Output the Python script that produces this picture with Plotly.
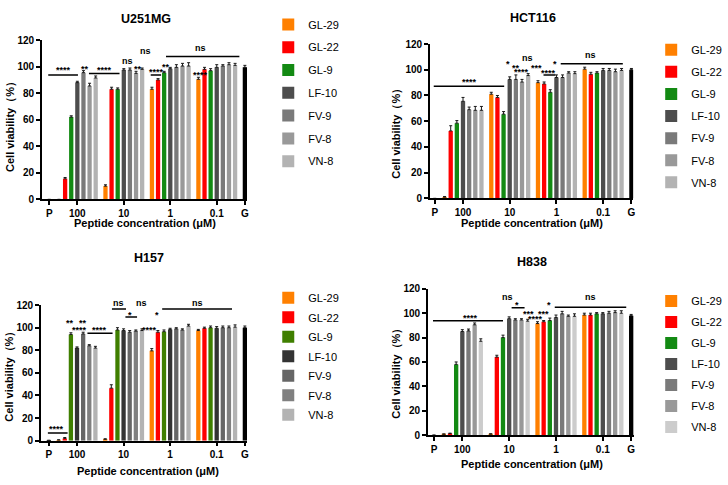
import plotly.graph_objects as go

# ---------------- data ----------------
peptides = ["GL-29", "GL-22", "GL-9", "LF-10", "FV-9", "FV-8", "VN-8"]
concentrations = ["100", "10", "1", "0.1"]
tick_labels = ["P", "100", "10", "1", "0.1", "G"]
panel_titles = ["U251MG", "HCT116", "H157", "H838"]

# U251MG (order of each list: 100, 10, 1, 0.1 uM)
u251_gl29 = [0.0, 10.0, 83.0, 90.5]
u251_gl22 = [15.5, 83.0, 90.0, 98.0]
u251_gl9 = [62.0, 83.0, 95.5, 97.0]
u251_lf10 = [88.0, 97.5, 98.5, 99.5]
u251_fv9 = [95.5, 97.5, 99.5, 100.5]
u251_fv8 = [85.5, 95.0, 100.5, 101.5]
u251_vn8 = [91.5, 98.0, 100.5, 101.0]
u251_controls = [0.0, 99.5]  # P, G
u251_err = [[0, 1, 1.5, 1.5], [1, 1.5, 1, 1.5], [1, 1, 1, 1.5], [1, 1, 1, 2],
            [1.5, 1.5, 2, 1], [2, 1.5, 2, 1.5], [1.5, 1, 2.5, 1.5]]
u251_ctrl_err = [0, 1.5]

# HCT116
hct_gl29 = [1.0, 81.0, 90.0, 100.5]
hct_gl22 = [52.5, 78.5, 89.0, 96.5]
hct_gl9 = [58.5, 65.5, 82.5, 97.5]
hct_lf10 = [75.5, 92.5, 94.0, 99.5]
hct_fv9 = [69.0, 92.5, 94.0, 99.5]
hct_fv8 = [68.5, 90.5, 97.5, 98.5]
hct_vn8 = [68.5, 95.5, 97.0, 99.5]
hct_controls = [0.0, 100.0]
hct_err = [[0.5, 1.5, 1.5, 1.5], [4, 1.5, 1.5, 1.5], [2, 2, 2, 1], [3, 2, 2, 1.5],
           [2, 3.5, 2, 1.5], [3, 2, 1, 2], [3, 1.5, 1.5, 1.5]]
hct_ctrl_err = [0, 1]

# H157
h157_gl29 = [0.5, 1.2, 79.5, 97.5]
h157_gl22 = [2.0, 46.5, 96.0, 99.5]
h157_gl9 = [94.0, 98.0, 96.5, 100.0]
h157_lf10 = [82.0, 97.5, 98.5, 99.5]
h157_fv9 = [94.5, 96.0, 99.0, 100.0]
h157_fv8 = [84.0, 97.0, 98.0, 100.0]
h157_vn8 = [82.0, 97.5, 101.5, 100.5]
h157_controls = [0.3, 100.0]
h157_err = [[0.3, 0.5, 2, 1], [0.8, 3, 1.5, 1], [1.5, 2, 1.5, 1.5], [1, 1.5, 1, 1.5],
            [1.5, 1.5, 1, 1.5], [1, 1, 1, 1.5], [1.5, 1.5, 1.5, 2]]
h157_ctrl_err = [0, 1.5]

# H838
h838_gl29 = [0.7, 0.8, 91.5, 98.5]
h838_gl22 = [1.3, 64.0, 93.0, 98.5]
h838_gl9 = [58.0, 80.0, 94.0, 99.5]
h838_lf10 = [85.0, 95.5, 96.5, 99.5]
h838_fv9 = [85.5, 94.5, 99.5, 100.0]
h838_fv8 = [90.5, 94.5, 97.5, 100.5]
h838_vn8 = [77.0, 93.5, 97.5, 100.0]
h838_controls = [0.0, 98.0]
h838_err = [[0.3, 0.3, 1.5, 1.5], [0.3, 1.5, 1, 1.5], [2, 2, 2, 1], [1.5, 1.5, 2, 1],
            [1.5, 1, 2, 1.5], [1.5, 1, 1, 1.5], [2, 1.5, 2, 2]]
h838_ctrl_err = [0, 1]

# ---------------- styles / layout ----------------
FONT = "Arial, 'Liberation Sans', sans-serif"
colors_a = ["#FF8000", "#FF0000", "#138A13", "#4D4D4D", "#7A7A7A", "#999999", "#B3B3B3"]
colors_b = ["#FF8000", "#FF0000", "#3F7F00", "#333333", "#666666", "#808080", "#B3B3B3"]
colors_c = ["#FF8000", "#FF0000", "#138A13", "#4D4D4D", "#7A7A7A", "#999999", "#CCCCCC"]

W, H = 728, 485
centers = [4.6 + 7.6 * g for g in range(4)]
P_X, G_X = 0.0, 32.0
BAR_W = 0.7
Y_MAX = 120

panels = [
    dict(vals=[u251_gl29, u251_gl22, u251_gl9, u251_lf10, u251_fv9, u251_fv8, u251_vn8],
         err=u251_err, ctrl=u251_controls, cerr=u251_ctrl_err, colors=colors_a,
         px=(42, 248), py=(35, 198.3), xr=[-1.2, 32.4],
         title=(146, 13), xt=(145, 223), yt=(10, 121),
         leg=(269, 4), gap=3.8,
         lines=[(-0.16, 4.7, 93.8), (6.5, 11.5, 94.8), (16.6, 18.3, 93.8), (19.1, 31.1, 107.7)],
         texts=[("****", 2.3, 99), ("**", 5.8, 100), ("****", 9.1, 99), ("ns", 12.8, 103.6),
                ("ns", 15.8, 110.7), ("**", 14.5, 100), ("****", 17.5, 97.4), ("**", 19.1, 101),
                ("ns", 24.7, 113), ("****", 24.7, 95.5)]),
    dict(vals=[hct_gl29, hct_gl22, hct_gl9, hct_lf10, hct_fv9, hct_fv8, hct_vn8],
         err=hct_err, ctrl=hct_controls, cerr=hct_ctrl_err, colors=colors_a,
         px=(431, 635), py=(39, 197.3), xr=[-0.8, 32.3],
         title=(534, 12), xt=(533, 222), yt=(398, 128),
         leg=(653, 30), gap=3.1,
         lines=[(-0.16, 11.3, 87.2), (17.7, 19.6, 96), (20.5, 30.6, 104.6)],
         texts=[("****", 5.7, 91.7), ("*", 12, 106), ("**", 13.2, 102.8), ("****", 14.1, 99.5),
                ("ns", 15.1, 108.6), ("***", 16.6, 102.6), ("****", 18.5, 98.8), ("*", 19.6, 106.4),
                ("ns", 25.3, 111)]),
    dict(vals=[h157_gl29, h157_gl22, h157_gl9, h157_lf10, h157_fv9, h157_fv8, h157_vn8],
         err=h157_err, ctrl=h157_controls, cerr=h157_ctrl_err, colors=colors_b,
         px=(41, 248), py=(306.7, 445.7), xr=[-1.3, 32.4],
         title=(149, 258), xt=(148, 477), yt=(10, 377),
         leg=(269, 284.3), gap=0.5,
         lines=[(-0.16, 3.06, 6.9), (6.3, 10.4, 95), (10.3, 12.6, 116.6), (12.5, 14.4, 109.4),
                (18.5, 29.9, 116.6)],
         texts=[("****", 1.3, 12.1), ("**", 3.5, 105.7), ("**", 5.5, 105.7), ("****", 4.95, 99.3),
                ("****", 8.2, 99.3), ("ns", 11.4, 120.9), ("*", 13.3, 112.9), ("ns", 15.2, 120.9),
                ("****", 16.5, 99.3), ("*", 17.7, 112.9), ("ns", 24.3, 120.9)]),
    dict(vals=[h838_gl29, h838_gl22, h838_gl9, h838_lf10, h838_fv9, h838_fv8, h838_vn8],
         err=h838_err, ctrl=h838_controls, cerr=h838_ctrl_err, colors=colors_c,
         px=(429, 636), py=(290, 440), xr=[-1.0, 32.5],
         title=(533, 262), xt=(533, 470), yt=(398, 374),
         leg=(653, 287.7), gap=2.0,
         lines=[(-0.16, 11.2, 93.8), (12.6, 14.7, 104.5), (19.6, 31.2, 104.8)],
         texts=[("****", 5.9, 97.4), ("ns", 11.9, 112.5), ("*", 13.5, 108.6), ("***", 15.3, 101.3),
                ("***", 17.7, 101.3), ("****", 16.5, 96.8), ("*", 18.7, 108.6), ("ns", 25.4, 112.5)]),
]

fig = go.Figure()
layout = dict(width=W, height=H, margin=dict(l=0, r=0, t=0, b=0),
              paper_bgcolor="white", plot_bgcolor="white", barmode="overlay",
              font=dict(family=FONT, color="black"), annotations=[], shapes=[])

ERR_STYLE = dict(type="data", symmetric=False, color="#1A1A1A", thickness=1, width=1.5)


def paper_text(text, pos, size, angle=0):
    tx, ty = pos
    return dict(text=text, x=tx / W, y=1 - ty / H, xref="paper", yref="paper",
                xanchor="center", yanchor="middle", showarrow=False, textangle=angle,
                font=dict(family=FONT, size=size, weight="bold"))


for k, p in enumerate(panels):
    sfx = "" if k == 0 else str(k + 1)
    xa, ya = "x" + sfx, "y" + sfx
    leg = "legend" + sfx
    for i, name in enumerate(peptides):
        xs = [c + (i - 3) for c in centers]
        fig.add_trace(go.Bar(
            x=xs, y=p["vals"][i], width=BAR_W, name=name,
            marker=dict(color=p["colors"][i], line=dict(width=0)),
            error_y=dict(array=p["err"][i], arrayminus=[0] * 4, **ERR_STYLE),
            xaxis=xa, yaxis=ya, legend=leg, legendgroup=f"{k}-{name}",
            hovertemplate=f"{name} %{{y}}<extra></extra>"))
    fig.add_trace(go.Bar(
        x=[P_X, G_X], y=p["ctrl"], width=BAR_W, name="control",
        marker=dict(color="black", line=dict(width=0)),
        error_y=dict(array=p["cerr"], arrayminus=[0, 0], **ERR_STYLE),
        xaxis=xa, yaxis=ya, showlegend=False, legend=leg))

    x0, x1 = p["px"]
    ytop, ybot = p["py"]
    px_per_unit = (ybot - ytop) / Y_MAX
    axis_common = dict(showline=True, linecolor="black", linewidth=1.5, ticks="outside",
                       ticklen=4, tickwidth=1.5, tickcolor="black", showgrid=False,
                       zeroline=False, tickfont=dict(family=FONT, size=10, weight="bold"))
    layout["xaxis" + sfx] = dict(domain=[x0 / W, x1 / W], range=p["xr"], anchor=ya,
                                 tickvals=[P_X] + centers + [G_X], ticktext=tick_labels,
                                 **axis_common)
    layout["yaxis" + sfx] = dict(domain=[1 - ybot / H, 1 - ytop / H], range=[0, Y_MAX], anchor=xa,
                                 tickvals=[0, 20, 40, 60, 80, 100, 120], **axis_common)
    lx, ly = p["leg"]
    layout[leg] = dict(x=lx / W, y=1 - ly / H, xanchor="left", yanchor="top",
                       font=dict(family=FONT, size=11, color="black"),
                       bgcolor="rgba(0,0,0,0)", tracegroupgap=p["gap"], itemwidth=30)

    layout["annotations"].append(paper_text(panel_titles[k], p["title"], 12.5))
    layout["annotations"].append(paper_text("Peptide concentration (μM)", p["xt"], 11))
    layout["annotations"].append(paper_text("Cell viability（%）", p["yt"], 11, -90))

    for (lx0, lx1, ly0) in p["lines"]:
        layout["shapes"].append(dict(type="line", xref=xa, yref=ya, x0=lx0, x1=lx1, y0=ly0, y1=ly0,
                                     line=dict(color="black", width=1.5)))
    for (txt, sx, sy) in p["texts"]:
        base_shift = -2 if "*" in txt else 1
        y_in = min(sy, Y_MAX - 0.1)
        extra = (sy - y_in) * px_per_unit
        layout["annotations"].append(dict(text=txt, x=sx, y=y_in, xref=xa, yref=ya, showarrow=False,
                                          xanchor="center", yanchor="middle",
                                          yshift=base_shift + extra,
                                          font=dict(family=FONT, size=9, weight="bold")))

fig.update_layout(**layout)
fig.write_html("out.html", config={"displayModeBar": False},
               post_script="document.body.style.margin='0';document.body.style.padding='0';")
